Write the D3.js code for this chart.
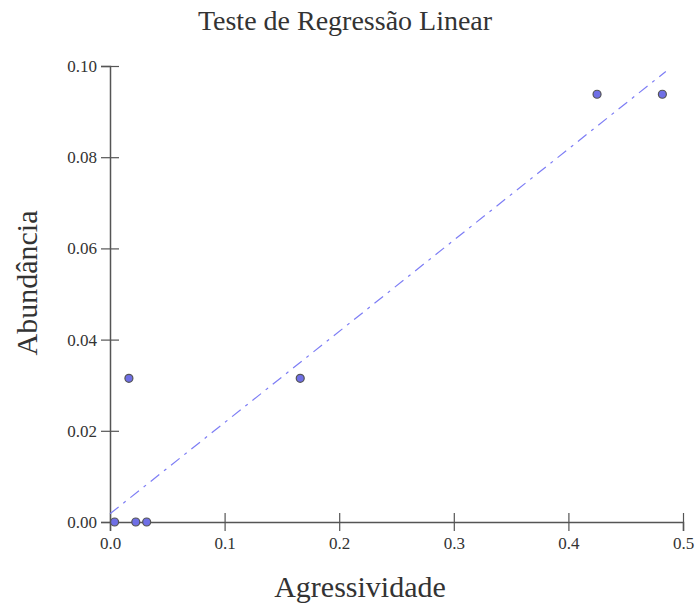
<!DOCTYPE html>
<html>
<head>
<meta charset="utf-8">
<script src="https://cdn.jsdelivr.net/npm/d3@7"></script>
<style>
  body { margin: 0; background: #fff; }
  text { font-family: "Liberation Serif", "DejaVu Serif", serif; }
</style>
</head>
<body>
<script>
// data
var agressividade = [0.004, 0.0225, 0.032, 0.0165, 0.166, 0.425, 0.482];
var abundancia    = [0.000, 0.000, 0.000, 0.0315, 0.0315, 0.0938, 0.0938];
var fitX = [0.0, 0.485];          // regression line ends
var fitY = [0.0018, 0.0988];
var xTicks = [0, 0.1, 0.2, 0.3, 0.4, 0.5];
var yTicks = [0, 0.02, 0.04, 0.06, 0.08, 0.10];

var width = 695, height = 610;
var mLeft = 110, mRight = 683, mTop = 66, mBottom = 522;

var svg = d3.select("body").append("svg")
    .attr("width", width)
    .attr("height", height);

var x = d3.scaleLinear().domain([0, 0.5]).range([mLeft, mRight]);
var y = d3.scaleLinear().domain([0, 0.10]).range([mBottom, mTop]);

// title
svg.append("text")
    .attr("x", 345).attr("y", 30)
    .attr("text-anchor", "middle")
    .attr("font-size", 28)
    .attr("fill", "#333")
    .text("Teste de Regressão Linear");

// x axis
var xAxis = d3.axisBottom(x).tickValues(xTicks).tickFormat(d3.format(".1f"))
    .tickSize(9).tickPadding(6);
var gx = svg.append("g").attr("transform", "translate(0," + mBottom + ")").call(xAxis);
gx.selectAll(".tick line").attr("y1", -9).attr("y2", 9);

// y axis
var yAxis = d3.axisLeft(y).tickValues(yTicks).tickFormat(d3.format(".2f"))
    .tickSize(9).tickPadding(4);
var gy = svg.append("g").attr("transform", "translate(" + mLeft + ",0)").call(yAxis);
gy.selectAll(".tick line").attr("x1", -9).attr("x2", 9);

[gx, gy].forEach(function(g) {
  g.attr("font-size", 17).attr("font-family", "Liberation Serif, serif");
  g.select(".domain").attr("stroke", "#555").attr("stroke-width", 1.5);
  g.selectAll(".tick line").attr("stroke", "#555").attr("stroke-width", 1.2);
  g.selectAll(".tick text").attr("fill", "#333");
});

// regression line
var line = d3.line().x(function(d) { return x(d[0]); }).y(function(d) { return y(d[1]); });
svg.append("path")
    .datum(d3.zip(fitX, fitY))
    .attr("d", line)
    .attr("fill", "none")
    .attr("stroke", "#7d7df5")
    .attr("stroke-width", 1.2)
    .attr("stroke-dasharray", "11,6,3,6");

// points
svg.append("g").selectAll("circle")
    .data(d3.zip(agressividade, abundancia))
    .enter().append("circle")
    .attr("cx", function(d) { return x(d[0]); })
    .attr("cy", function(d) { return y(d[1]); })
    .attr("r", 4)
    .attr("fill", "#6f6fe6")
    .attr("stroke", "#555")
    .attr("stroke-width", 1.2);

// axis titles
svg.append("text")
    .attr("x", 360).attr("y", 597)
    .attr("text-anchor", "middle")
    .attr("font-size", 30)
    .attr("fill", "#333")
    .text("Agressividade");

svg.append("text")
    .attr("transform", "translate(37,283) rotate(-90)")
    .attr("text-anchor", "middle")
    .attr("font-size", 30)
    .attr("fill", "#333")
    .text("Abundância");
</script>
</body>
</html>
